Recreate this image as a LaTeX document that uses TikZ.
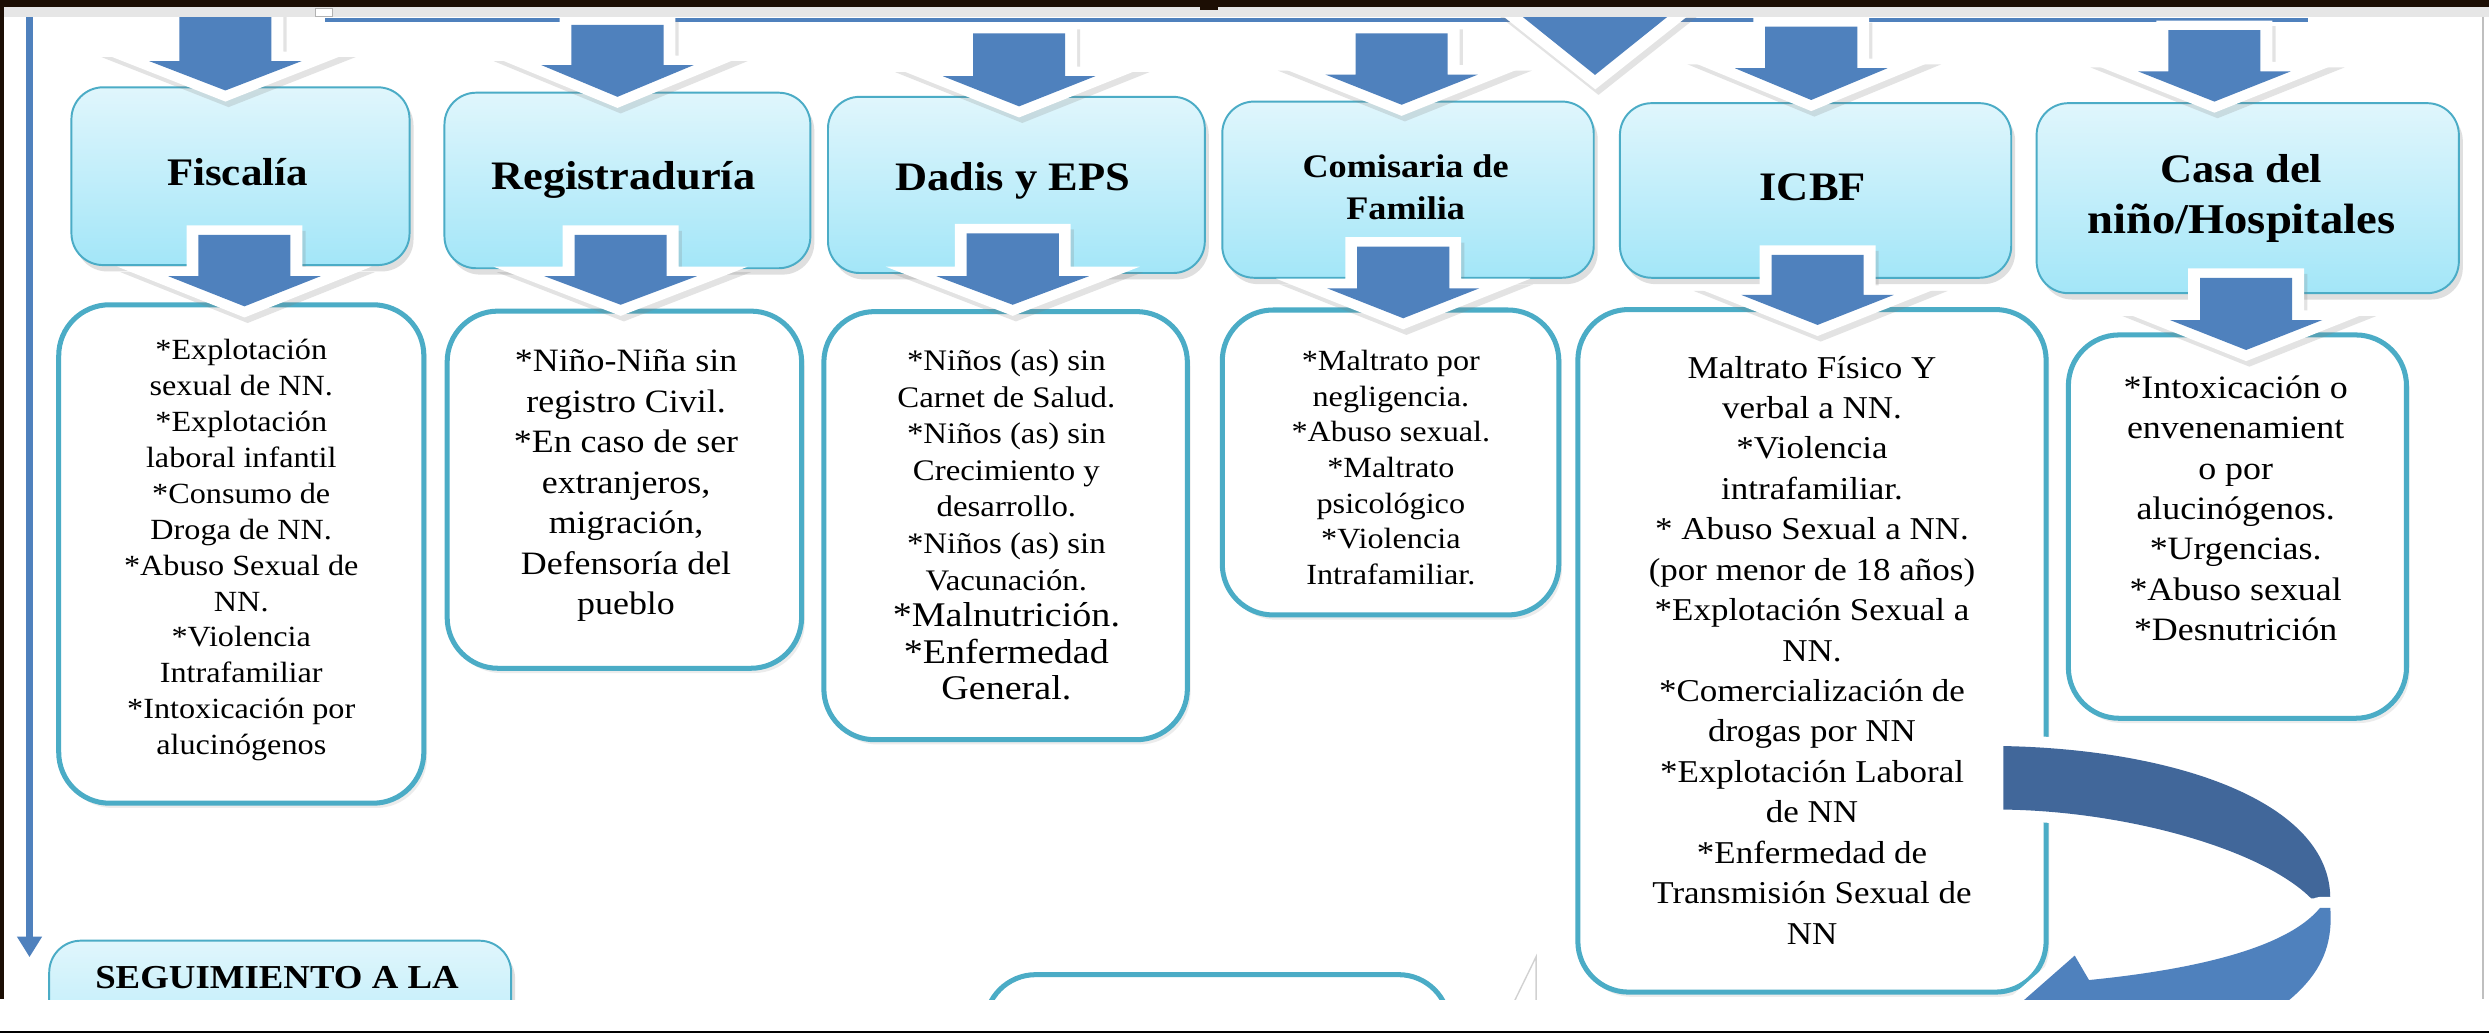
\documentclass[tikz,border=0pt]{standalone}
\usepackage{fontspec}
\setmainfont{Liberation Serif}[FakeStretch=1.1]
\usetikzlibrary{arrows.meta, fit, shadows}

\definecolor{arrowblue}{RGB}{79,129,189}
\definecolor{arrowdark}{RGB}{65,103,154}
\definecolor{boxteal}{RGB}{75,172,198}
\definecolor{hdrtop}{RGB}{224,246,252}
\definecolor{hdrbot}{RGB}{163,230,248}
\definecolor{framedark}{RGB}{28,14,4}
\definecolor{bandgrey}{RGB}{230,230,230}

\newcommand{\blockarrow}[4]{%
  \fill[arrowrim] ({#1-36.5},{#2-6}) -- ({#1+36.5},{#2-6}) -- ({#1+36.5},{#3-6})
    -- ({#1+80},{#3-6}) -- (#1,{#4+7}) -- ({#1-80},{#3-6}) -- ({#1-36.5},{#3-6}) -- cycle;
  \fill[arrowbody] ({#1-29},#2) -- ({#1+29},#2) -- ({#1+29},#3)
    -- ({#1+48},#3) -- (#1,#4) -- ({#1-48},#3) -- ({#1-29},#3) -- cycle;}
\newcommand{\bigline}{\fontsize{12.4}{13.1}\selectfont}

\begin{document}
\begin{tikzpicture}[x=0.02cm, y=-0.02cm,
    hdr/.style={draw=boxteal, line width=0.7pt, rounded corners=0.4cm,
      top color=hdrtop, bottom color=hdrbot, inner sep=0pt,
      drop shadow={opacity=0.25, shadow xshift=0.5mm, shadow yshift=-0.8mm}},
    hdrtitle/.style={align=center, inner sep=0pt, font=\fontsize{14.5}{18.5}\selectfont\bfseries},
    detail/.style={draw=boxteal, line width=1.8pt, rounded corners=0.64cm,
      fill=white, inner sep=0pt,
      drop shadow={opacity=0.15, shadow xshift=0.4mm, shadow yshift=-0.6mm}},
    itemtext/.style={align=center, inner sep=0pt, font=\fontsize{10.5}{12.9}\selectfont},
    itemtextbig/.style={align=center, inner sep=0pt, font=\fontsize{11.7}{14.5}\selectfont},
    flowline/.style={draw=arrowblue, line width=2.2pt},
    arrowrim/.style={fill=white, drop shadow={opacity=0.22, shadow xshift=0.4mm, shadow yshift=-0.7mm}},
    arrowbody/.style={fill=arrowblue},
    curverim/.style={preaction={draw=white, line width=2.8mm, line join=round}}]

  \useasboundingbox (0,0) rectangle (1568,651);
  \fill[white] (0,0) rectangle (1568,651);

  \begin{scope}
    \clip (2.5,0) rectangle (1564,629.5);

    \coordinate (topStart) at (205,12.5);
    \coordinate (topEnd) at (1454,12.5);
    \coordinate (leftTop) at (18.6,0);
    \coordinate (leftEnd) at (18.6,603);
    \draw[flowline, line width=1.4pt] (topStart) -- (topEnd);
    \draw[flowline, -{Triangle[length=2.6mm, width=3mm]}] (leftTop) -- (leftEnd);

    \node[hdr, fit={(45,55) (258,167)}] (fisHdr) {};
    \node[hdr, fit={(280,58.4) (510.5,169)}] (regHdr) {};
    \node[hdr, fit={(521.6,61) (759,172)}] (dadHdr) {};
    \node[hdr, fit={(770,64) (1004,175)}] (comHdr) {};
    \node[hdr, fit={(1020.5,65) (1267,175)}] (icbHdr) {};
    \node[hdr, fit={(1283,65) (1549,184.7)}] (casHdr) {};
    \node[hdr, fit={(31,592.6) (322,700)}] (segHdr) {};

    \node[detail, fit={(37,192) (267,506)}] (fisBox) {};
    \node[detail, fit={(281.7,196) (505,421)}] (regBox) {};
    \node[detail, fit={(519,196.3) (748,466)}] (dadBox) {};
    \node[detail, fit={(770,195.3) (982,387.4)}] (comBox) {};
    \node[detail, fit={(994,195) (1289,625)}] (icbBox) {};
    \node[detail, fit={(1303,211) (1516,452.5)}] (casBox) {};
    \node[detail, fit={(620.5,614) (913,700)}] (nextBox) {};

    \blockarrow{142}{0}{38.5}{57}
    \blockarrow{389}{15.7}{41}{61}
    \blockarrow{642}{21}{48}{67}
    \blockarrow{883}{21}{47}{66}
    \blockarrow{1141}{16.8}{43}{63}
    \blockarrow{1395}{19}{45}{64}
    \blockarrow{154}{148}{174}{193}
    \blockarrow{391}{148}{174}{192}
    \blockarrow{638}{147}{174}{192}
    \blockarrow{884}{155.4}{181.6}{200.5}
    \blockarrow{1145}{160.6}{185.8}{204.7}
    \blockarrow{1415}{175}{201.6}{220.5}

    \fill[arrowrim] (934,0) -- (1076,0) -- (1005,56.3) -- cycle;
    \fill[arrowbody] (946,0) -- (1063.6,0) -- (1004.8,47.2) -- cycle;

    \fill[arrowdark, curverim] (1262,470) .. controls (1370,472) and (1468,505) .. (1468,566)
      -- (1456,566) .. controls (1425,535) and (1340,511) .. (1262,510) -- cycle;
    \fill[arrowblue, curverim] (1468,572) .. controls (1471,612) and (1447,634) .. (1385,664)
      -- (1345,692) -- (1250,652) -- (1307,602) -- (1316,617.4)
      .. controls (1380,611) and (1440,598) .. (1461.5,572) -- cycle;

    \draw[black!18, fill=white, line width=0.5pt] (967.7,602.7) -- (967.7,640) -- (949.5,640) -- cycle;

    \node[hdrtitle, font=\fontsize{14}{18}\selectfont\bfseries] (fisTitle) at (149.6,108.5) {Fiscalía};
    \node[hdrtitle] (regTitle) at (392.7,113.5) {Registraduría};
    \node[hdrtitle] (dadTitle) at (638,114) {Dadis y EPS};
    \node[hdrtitle, font=\fontsize{11.8}{15.1}\selectfont\bfseries] (comTitle) at (885.5,117.7) {Comisaria de\\Familia};
    \node[hdrtitle] (icbTitle) at (1142,118) {ICBF};
    \node[hdrtitle] (casTitle) at (1412,125) {Casa del\\\fontsize{15.2}{18.5}\selectfont niño/Hospitales};
    \node[hdrtitle, font=\fontsize{12}{14}\selectfont\bfseries] (segTitle) at (174.5,616) {SEGUIMIENTO A LA};

    \node[itemtext] (fisTxt) at (152,346.5) {*Explotación\\sexual de NN.\\{}*Explotación\\laboral infantil\\{}*Consumo de\\Droga de NN.\\{}*Abuso Sexual de\\NN.\\{}*Violencia\\Intrafamiliar\\{}*Intoxicación por\\alucinógenos};
    \node[itemtextbig] (regTxt) at (394.4,306) {*Niño-Niña sin\\registro Civil.\\{}*En caso de ser\\extranjeros,\\migración,\\Defensoría del\\pueblo};
    \node[itemtext, font=\fontsize{10.7}{13.1}\selectfont] (dadTxt) at (634,330.8) {*Niños (as) sin\\Carnet de Salud.\\{}*Niños (as) sin\\Crecimiento y\\desarrollo.\\{}*Niños (as) sin\\Vacunación.\\\bigline *Malnutrición.\\\bigline *Enfermedad\\\bigline General.};
    \node[itemtext, font=\fontsize{10.5}{12.8}\selectfont] (comTxt) at (876.2,294.5) {*Maltrato por\\negligencia.\\{}*Abuso sexual.\\{}*Maltrato\\psicológico\\{}*Violencia\\Intrafamiliar.};
    \node[itemtextbig, font=\fontsize{11.4}{14.5}\selectfont] (icbTxt) at (1141.5,409.5) {Maltrato Físico Y\\verbal a NN.\\{}*Violencia\\intrafamiliar.\\{}* Abuso Sexual a NN.\\(por menor de 18 años)\\{}*Explotación Sexual a\\NN.\\{}*Comercialización de\\drogas por NN\\{}*Explotación Laboral\\de NN\\{}*Enfermedad de\\Transmisión Sexual de\\NN};
    \node[itemtextbig] (casTxt) at (1408.4,320.2) {*Intoxicación o\\envenenamient\\o por\\alucinógenos.\\{}*Urgencias.\\{}*Abuso sexual\\{}*Desnutrición};
  \end{scope}

  \fill[framedark] (0,0) rectangle (1568,4.2);
  \fill[bandgrey] (2.5,4.2) rectangle (1568,10.5);
  \fill[framedark] (0,0) rectangle (2.5,629.5);
  \fill[framedark] (756,4.2) rectangle (767,6.5);
  \draw[black!30, fill=white, line width=0.4pt] (199,5.2) rectangle (209.5,10.5);
  \draw[black!25, line width=0.6pt] (1564,10.5) -- (1564,629.5);
  \fill[black] (0,649.6) rectangle (1568,651);
\end{tikzpicture}
\end{document}
